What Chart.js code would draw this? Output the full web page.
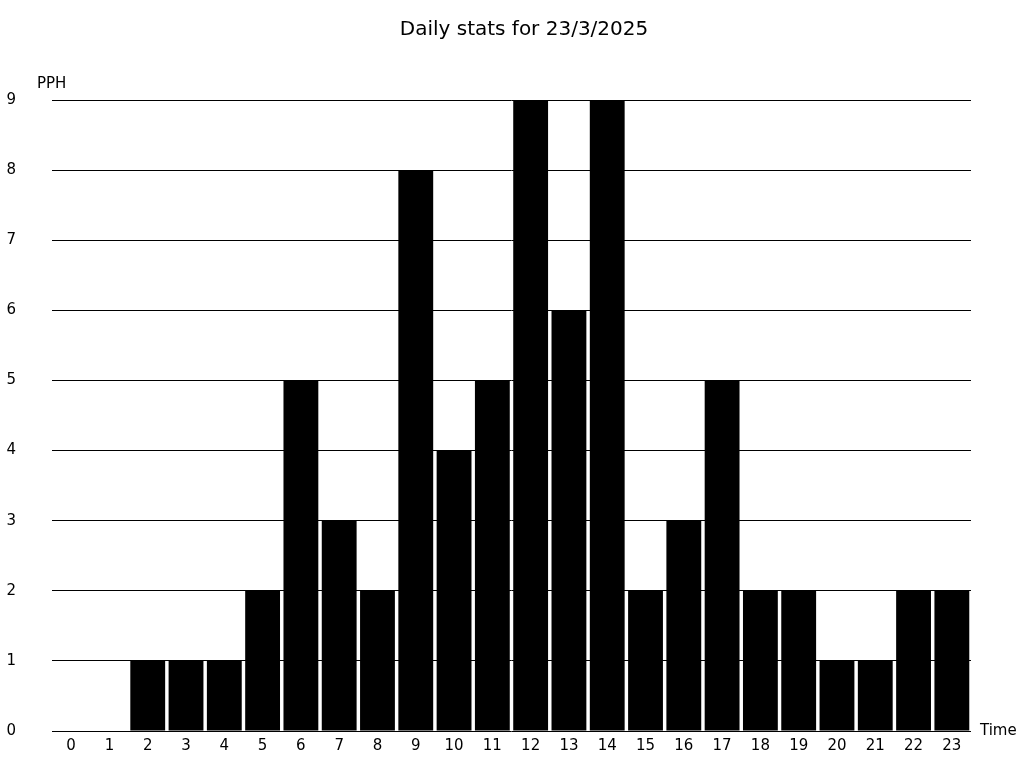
<!DOCTYPE html>
<html>
<head>
<meta charset="utf-8">
<script src="https://cdn.jsdelivr.net/npm/chart.js@4"></script>
<style>
  html, body { margin: 0; padding: 0; background: #fff; overflow: hidden; }
  #wrap { width: 1024px; height: 768px; overflow: hidden; }
</style>
</head>
<body>
<div id="wrap"><canvas id="myChart" width="1024" height="776"></canvas></div>
<script>
const hours = ['0','1','2','3','4','5','6','7','8','9','10','11','12','13','14','15','16','17','18','19','20','21','22','23'];
const pph = [0, 0, 1, 1, 1, 2, 5, 3, 2, 8, 4, 5, 9, 6, 9, 2, 3, 5, 2, 2, 1, 1, 2, 2];
const titleText = 'Daily stats for 23/3/2025';
const yLabel = 'PPH';
const xLabel = 'Time';

const font = 'DejaVu Sans';

// title and axis names are placed by hand, the way the original lays them out
const labels = {
  id: 'labels',
  afterDraw(chart) {
    const { ctx, chartArea } = chart;
    ctx.save();
    ctx.fillStyle = '#000';
    ctx.textBaseline = 'middle';

    ctx.font = `20px "${font}"`;
    ctx.textAlign = 'center';
    ctx.fillText(titleText, 524, 30);

    ctx.font = `15px "${font}"`;
    ctx.textAlign = 'left';
    ctx.fillText(yLabel, 37, chartArea.top - 16);
    ctx.fillText(xLabel, chartArea.right + 9, chartArea.bottom);
    ctx.restore();
  }
};

Chart.defaults.font.family = font;
Chart.defaults.color = '#000';

const ctx = document.getElementById('myChart').getContext('2d');
new Chart(ctx, {
  type: 'bar',
  data: {
    labels: hours,
    datasets: [{
      data: pph,
      backgroundColor: '#000',
      borderWidth: 0,
      categoryPercentage: 1,
      barPercentage: 0.91,
    }],
  },
  options: {
    responsive: false,
    animation: false,
    layout: { padding: { left: 7, right: 53, top: 100, bottom: 6 } },
    plugins: {
      legend: { display: false },
      tooltip: { enabled: false },
      title: { display: false },
    },
    scales: {
      x: {
        grid: { display: false, drawTicks: false },
        border: { display: false },
        ticks: { font: { size: 15 }, padding: 6, maxRotation: 0, autoSkip: false },
        afterFit(scale) { scale.height = 24; },
      },
      y: {
        min: 0,
        max: 9,
        grid: { color: '#000', lineWidth: 1, drawTicks: false },
        border: { display: false },
        ticks: { stepSize: 1, font: { size: 15 }, padding: 36 },
        afterFit(scale) { scale.width = 45; },
      },
    },
  },
  plugins: [labels],
});
</script>
</body>
</html>
